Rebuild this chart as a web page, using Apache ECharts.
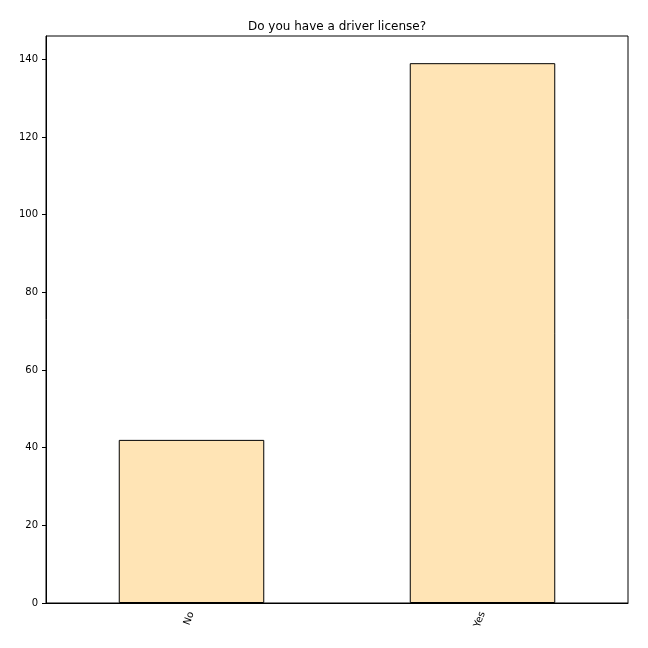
<!DOCTYPE html>
<html>
  <head>
    <style type="text/css">
      html,
      body {
        width: 100%;
        height: 100%;
        margin: 0px;
        background: #fff;
      }

      #chart {
        width: 648px;
        height: 648px;
      }
    </style>
    <script type="text/javascript" src="https://fastly.jsdelivr.net/npm/echarts@6/dist/echarts.min.js"></script>
  </head>

  <body>
    <div id="chart"></div>
    <script>
      const categories = ["No", "Yes"];
      const counts = [42, 139];

      const myChart = echarts.init(document.getElementById("chart"), null, {
        renderer: "canvas"
      });

      const option = {
        animation: false,
        textStyle: { fontFamily: "DejaVu Sans" },
        title: {
          text: "Do you have a driver license?",
          // centred over the plot area, not the whole canvas
          left: 337,
          textAlign: "center",
          top: 15,
          padding: 0,
          textStyle: { fontSize: 12, fontWeight: "normal", color: "#000" }
        },
        grid: {
          left: 46,
          right: 20,
          top: 36,
          bottom: 45,
          show: true,
          borderColor: "#000",
          borderWidth: 1
        },
        xAxis: {
          type: "category",
          data: categories,
          axisLine: { lineStyle: { color: "#000" } },
          axisTick: { alignWithLabel: true, length: 4, lineStyle: { color: "#000" } },
          axisLabel: { rotate: 70, color: "#000", fontSize: 10, margin: 9 }
        },
        yAxis: {
          type: "value",
          min: 0,
          max: 146,
          interval: 20,
          splitLine: { show: false },
          axisLine: { show: true, lineStyle: { color: "#000" } },
          axisTick: { show: true, length: 4, lineStyle: { color: "#000" } },
          axisLabel: { color: "#000", fontSize: 10, margin: 8, showMaxLabel: false }
        },
        series: [
          {
            type: "bar",
            data: counts,
            barCategoryGap: "50%",
            itemStyle: {
              color: "#ffe4b5",
              borderColor: "#000",
              borderWidth: 1
            }
          }
        ]
      };

      myChart.setOption(option);
    </script>
  </body>
</html>
